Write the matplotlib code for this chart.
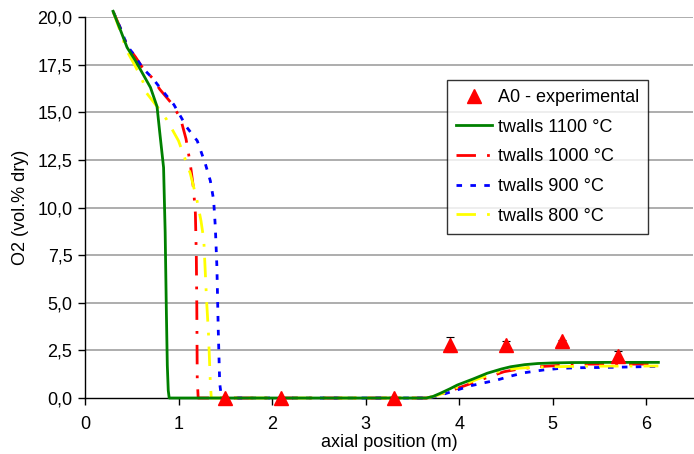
import matplotlib
matplotlib.use("Agg")
import matplotlib.pyplot as plt
from matplotlib.ticker import FuncFormatter

plt.rcParams['font.family'] = ['Liberation Sans', 'DejaVu Sans']

# Experimental data
exp_x = [1.5, 2.1, 3.3, 3.9, 4.5, 5.1, 5.7]
exp_y = [0.0, 0.0, 0.0, 2.8, 2.78, 2.97, 2.2]
exp_err = [0.0, 0.0, 0.0, 0.4, 0.22, 0.05, 0.25]

# Simulated profiles
x_1100 = [0.3, 0.38, 0.45, 0.54, 0.62, 0.70, 0.77, 0.80, 0.82, 0.84, 0.857, 0.87, 0.88, 0.89, 0.90,
          3.65, 3.72, 3.8, 3.9, 3.98, 4.15, 4.30, 4.45, 4.55, 4.7, 4.84, 5.0, 5.2, 5.6, 6.13]
y_1100 = [20.3, 19.3, 18.4, 17.7, 17.0, 16.3, 15.3, 13.9, 13.0, 12.1, 8.7, 4.5, 1.7, 0.4, 0.0,
          0.0, 0.08, 0.25, 0.48, 0.68, 1.0, 1.3, 1.52, 1.64, 1.75, 1.81, 1.84, 1.86, 1.87, 1.87]

x_1000 = [0.3, 0.38, 0.45, 0.54, 0.62, 0.72, 0.8, 0.92, 1.02, 1.08, 1.125, 1.16, 1.18, 1.19, 1.195, 1.20, 1.21,
          3.65, 3.72, 3.8, 3.95, 4.13, 4.3, 4.48, 4.65, 4.84, 5.1, 5.34, 6.13]
y_1000 = [20.3, 19.4, 18.5, 17.9, 17.3, 16.8, 16.2, 15.5, 14.7, 13.6, 12.3, 11.0, 9.7, 7.5, 5.0, 1.0, 0.0,
          0.0, 0.07, 0.2, 0.45, 0.77, 1.08, 1.38, 1.53, 1.64, 1.72, 1.78, 1.78]

x_900 = [0.3, 0.38, 0.45, 0.54, 0.62, 0.72, 0.8, 0.95, 1.09, 1.2, 1.286, 1.34, 1.375, 1.393, 1.41, 1.425, 1.44, 1.46,
         3.65, 3.72, 3.8, 3.95, 4.13, 4.41, 4.55, 4.70, 4.9, 5.09, 5.3, 5.63, 6.13]
y_900 = [20.3, 19.4, 18.5, 17.9, 17.3, 16.8, 16.3, 15.4, 14.2, 13.5, 12.3, 11.4, 10.4, 9.0, 6.9, 3.5, 0.77, 0.0,
         0.0, 0.05, 0.15, 0.38, 0.65, 0.95, 1.15, 1.33, 1.47, 1.56, 1.59, 1.61, 1.66]

x_800 = [0.3, 0.38, 0.45, 0.54, 0.62, 0.66, 0.77, 0.875, 1.0, 1.125, 1.196, 1.24, 1.27, 1.30, 1.32, 1.34, 1.35,
         3.65, 3.72, 3.8, 4.0, 4.2, 4.35, 4.48, 4.65, 4.84, 5.3, 6.13]
y_800 = [20.3, 19.2, 18.2, 17.4, 16.6, 16.0, 15.3, 14.6, 13.5, 11.8, 10.4, 9.3, 8.3, 5.1, 3.4, 0.8, 0.0,
         0.0, 0.07, 0.2, 0.6, 1.0, 1.27, 1.47, 1.57, 1.62, 1.67, 1.68]

y_ticks = [0.0, 2.5, 5.0, 7.5, 10.0, 12.5, 15.0, 17.5, 20.0]
x_ticks = [0, 1, 2, 3, 4, 5, 6]

fig = plt.figure(figsize=(6.94, 4.54), dpi=100)
ax = fig.add_axes([85 / 694, 1 - 398 / 454, (693 - 85) / 694, (398 - 17) / 454])

for y in y_ticks[1:]:
    ax.axhline(y, color='#a0a0a0', lw=1.2, zorder=0)

ax.errorbar(exp_x, exp_y, yerr=exp_err, fmt='none', ecolor='black', elinewidth=0.8,
            capsize=3, capthick=0.8, zorder=5, clip_on=False)
ax.plot(exp_x, exp_y, linestyle='none', marker='^', markersize=10, color='#ff0000',
        label='A0 - experimental', zorder=6, clip_on=False)

ax.plot(x_1100, y_1100, color='#008000', lw=2, label='twalls 1100 °C', zorder=4, clip_on=False)
ax.plot(x_1000, y_1000, color='#ff0000', lw=2, dashes=(7, 4, 1, 4), label='twalls 1000 °C', zorder=3, clip_on=False)
ax.plot(x_900, y_900, color='#0000ff', lw=2, dashes=(2, 3), label='twalls 900 °C', zorder=3, clip_on=False)
ax.plot(x_800, y_800, color='#ffff00', lw=2, dashes=(7, 4, 1, 4), label='twalls 800 °C', zorder=3, clip_on=False)

ax.set_xlim(0, 6.5)
ax.set_ylim(0, 20)
ax.set_xticks(x_ticks)
ax.set_yticks(y_ticks)
ax.yaxis.set_major_formatter(FuncFormatter(lambda v, p: f"{v:.1f}".replace('.', ',')))
ax.tick_params(direction='out', length=5, width=1, labelsize=13, colors='black', pad=4)
ax.tick_params(axis='x', pad=8)
for s in ['top', 'right']:
    ax.spines[s].set_visible(False)
for s in ['left', 'bottom']:
    ax.spines[s].set_color('black')
    ax.spines[s].set_linewidth(1)

ax.set_xlabel('axial position (m)', fontsize=13, labelpad=1)
ax.set_ylabel('O2 (vol.% dry)', fontsize=13, labelpad=6)

leg = ax.legend(loc='upper left', bbox_to_anchor=((447 - 85) / 608, (398 - 80) / 381),
                fontsize=13, frameon=True, fancybox=False, edgecolor='black',
                handlelength=2.0, handletextpad=0.3, borderpad=0.5, labelspacing=0.7,
                borderaxespad=0)
leg.get_frame().set_linewidth(1)

fig.savefig('out.png', dpi=100)
